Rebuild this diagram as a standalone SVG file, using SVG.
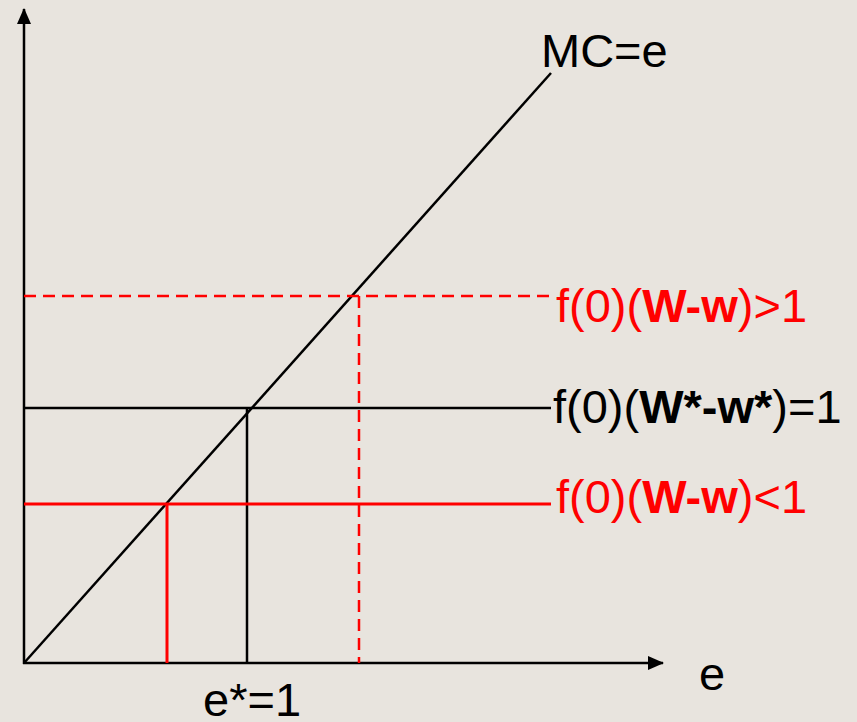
<svg xmlns="http://www.w3.org/2000/svg" width="857" height="722" viewBox="0 0 857 722">
<style>
.ax{stroke:#000;stroke-width:2.5;fill:none}
.blk{stroke:#000;stroke-width:2.5;fill:none}
.red{stroke:#FF0000;stroke-width:3;fill:none}
.dash{stroke:#FF0000;stroke-width:2.5;fill:none;stroke-dasharray:12 7}
text{font-family:"Liberation Sans",Arial,sans-serif;font-size:47px}
.r{fill:#FF0000}
.k{fill:#000}
.b{font-weight:bold}
</style>
<defs>
<marker id="arr" markerWidth="16" markerHeight="14" refX="15" refY="7" orient="auto" markerUnits="userSpaceOnUse">
<path d="M0,0 L16,7 L0,14 Z" fill="#000"/>
</marker>
</defs>
<rect width="857" height="722" fill="#E8E4DE"/>
<g id="connectors">
<line class="ax" x1="24" y1="664" x2="24" y2="9" marker-end="url(#arr)"/>
<line class="ax" x1="23" y1="663" x2="663" y2="663" marker-end="url(#arr)"/>
<line class="blk" x1="24" y1="663" x2="551" y2="73"/>
<line class="dash" x1="24" y1="296" x2="550" y2="296"/>
<line class="dash" x1="359" y1="296" x2="359" y2="663"/>
<line class="blk" x1="24" y1="408" x2="551" y2="408"/>
<line class="blk" x1="247" y1="408" x2="247" y2="663"/>
<line class="red" x1="24" y1="504" x2="551" y2="504"/>
<line class="red" x1="167" y1="504" x2="167" y2="663"/>
</g>
<g id="label-mc"><text x="541" y="67" class="k">MC=e</text></g>
<g id="label-high"><text x="556" y="322" class="r">f(0)(<tspan class="b">W-w</tspan>)&gt;1</text></g>
<g id="label-star"><text x="553" y="423" class="k">f(0)(<tspan class="b">W*-w*</tspan>)=1</text></g>
<g id="label-low"><text x="556" y="513" class="r">f(0)(<tspan class="b">W-w</tspan>)&lt;1</text></g>
<g id="label-e"><text x="699" y="690" class="k">e</text></g>
<g id="label-estar"><text x="203" y="716" class="k">e*=1</text></g>
</svg>
